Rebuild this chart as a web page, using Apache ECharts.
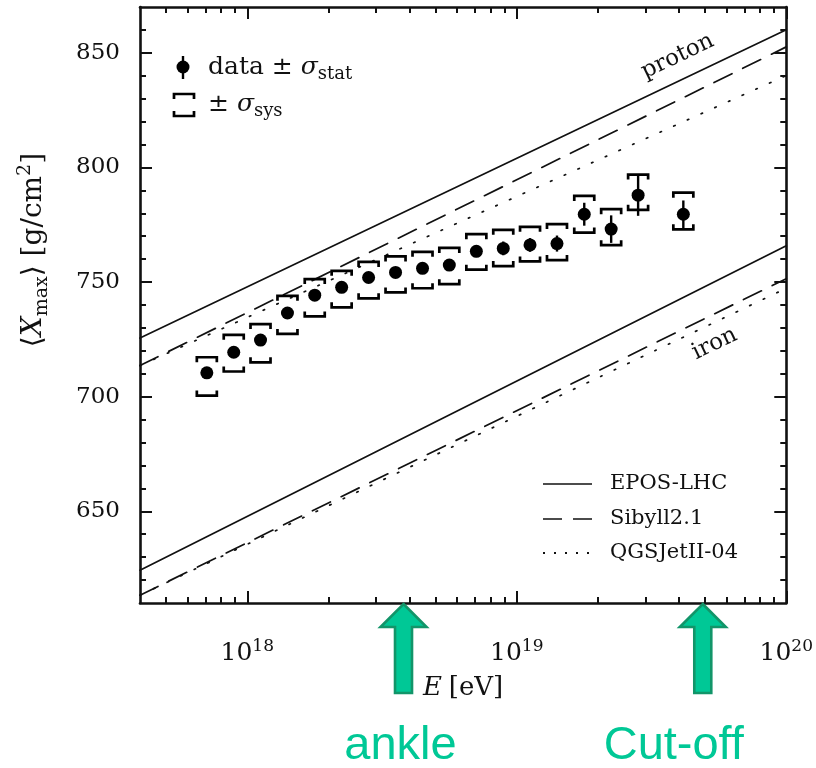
<!DOCTYPE html>
<html>
<head>
<meta charset="utf-8">
<script src="https://cdn.jsdelivr.net/npm/echarts@6/dist/echarts.min.js"></script>
<style>
  html, body { margin: 0; padding: 0; background: #ffffff; }
  #chart { width: 816px; height: 768px; }
</style>
</head>
<body>
<div id="chart"></div>
<script>
// Mean depth of shower maximum <Xmax> versus energy, with hadronic-model predictions.

// Measured points: energy [eV], mean Xmax [g/cm^2], statistical error, systematic band (+ / -)
const energy   = [7.08e17, 8.91e17, 1.12e18, 1.41e18, 1.78e18, 2.24e18, 2.82e18, 3.55e18, 4.47e18,
                  5.62e18, 7.08e18, 8.91e18, 1.12e19, 1.41e19, 1.78e19, 2.24e19, 2.82e19, 4.15e19];
const xmaxMean = [710.4, 719.4, 724.7, 736.5, 744.3, 747.7, 752.0, 754.2, 756.0,
                  757.4, 763.4, 764.7, 766.2, 766.8, 779.6, 773.1, 787.9, 779.6];
const statErr  = [1.5, 1.5, 1.5, 1.5, 1.5, 1.5, 1.5, 1.8, 2.0,
                  2.0, 2.5, 3.0, 3.0, 3.5, 5.0, 6.0, 9.0, 6.0];
const sysUp    = [6.8, 7.6, 7.0, 7.5, 7.0, 7.2, 6.8, 7.0, 7.2,
                  7.5, 7.5, 8.1, 7.9, 8.5, 8.0, 8.7, 9.0, 9.4];
const sysDown  = [9.9, 8.4, 9.7, 9.1, 9.3, 8.7, 9.1, 8.7, 8.7,
                  8.3, 8.0, 7.7, 7.2, 7.2, 8.0, 7.0, 6.4, 6.6];

// Model predictions (straight in lg E): values at the two ends of the energy range
const modelEnergy  = [4e17, 1e20];
const protonEPOS   = [725.6, 860.1];
const protonSibyll = [713.6, 852.6];
const protonQGSJet = [713.6, 840.1];
const ironEPOS     = [624.3, 765.8];
const ironSibyll   = [613.4, 751.5];
const ironQGSJet   = [613.4, 747.3];

// Axis ranges and ticks
const xRange = [4e17, 1e20];
const yRange = [610, 870];
const xMajorTicks = [1e18, 1e19, 1e20];
const xMajorExp   = ['18', '19', '20'];
const xMinorTicks = [5e17, 6e17, 7e17, 8e17, 9e17,
                     2e18, 3e18, 4e18, 5e18, 6e18, 7e18, 8e18, 9e18,
                     2e19, 3e19, 4e19, 5e19, 6e19, 7e19, 8e19, 9e19];
const yMajorTicks = [650, 700, 750, 800, 850];
const yMinorTicks = [620, 630, 640, 660, 670, 680, 690, 710, 720, 730, 740,
                     760, 770, 780, 790, 810, 820, 830, 840, 860];

// Curve annotations
const curveLabel       = ['proton', 'iron'];
const curveLabelEnergy = [3.95e19, 5.42e19];
const curveLabelXmax   = [848.4, 723.0];

// Spectral features marked below the energy axis
const featureName   = ['ankle', 'Cut-off'];
const featureEnergy = [3.8e18, 4.9e19];

const SERIF = "'DejaVu Serif', serif";
const INK = '#111111';
const GREEN = '#00C896';
const GREEN_DARK = '#129569';
const featureTextShift = [-3, -29];

const chart = echarts.init(document.getElementById('chart'), null, { renderer: 'canvas' });

function pairs(xs, ys) { return xs.map((x, i) => [x, ys[i]]); }

function modelLine(name, values, dash) {
  return {
    type: 'line', name: name, xAxisIndex: 0, yAxisIndex: 0,
    data: pairs(modelEnergy, values),
    showSymbol: false, symbol: 'none', silent: true, z: 2,
    lineStyle: { color: INK, width: 1.7, type: dash, cap: 'round', opacity: 1 }
  };
}

function frameAxis(base, extra) { return Object.assign({}, base, extra); }

const xBase = {
  type: 'log', logBase: 10, min: xRange[0], max: xRange[1],
  splitLine: { show: false }, minorTick: { show: false }
};
const yBase = {
  type: 'value', min: yRange[0], max: yRange[1],
  splitLine: { show: false }, minorTick: { show: false }
};
const frameLine = { show: true, onZero: false, lineStyle: { color: INK, width: 2.6 } };

const option = {
  backgroundColor: '#ffffff',
  animation: false,
  grid: { left: 140, right: 27, top: 7, bottom: 165, containLabel: false },
  xAxis: [
    frameAxis(xBase, {
      position: 'bottom',
      axisLine: frameLine,
      axisTick: { show: true, inside: true, length: 12, customValues: xMajorTicks,
                  lineStyle: { color: INK, width: 2 } },
      axisLabel: {
        show: true, margin: 35, customValues: xMajorTicks,
        formatter: function (v) {
          let k = 0, best = Infinity;
          xMajorTicks.forEach((t, i) => { const d = Math.abs(Math.log10(t) - Math.log10(v)); if (d < best) { best = d; k = i; } });
          return '{b|10}{s|' + xMajorExp[k] + '}';
        },
        rich: {
          b: { fontFamily: SERIF, fontSize: 25, color: INK, lineHeight: 30, verticalAlign: 'middle' },
          s: { fontFamily: SERIF, fontSize: 17, color: INK, lineHeight: 17, verticalAlign: 'top' }
        }
      },
      name: '{i|E}  {r|[eV]}', nameLocation: 'middle', nameGap: 72,
      nameTextStyle: {
        rich: {
          i: { fontFamily: SERIF, fontStyle: 'italic', fontSize: 26, color: INK },
          r: { fontFamily: SERIF, fontSize: 26, color: INK }
        }
      }
    }),
    frameAxis(xBase, {
      position: 'bottom',
      axisLine: { show: false },
      axisTick: { show: true, inside: true, length: 6, customValues: xMinorTicks,
                  lineStyle: { color: INK, width: 2 } },
      axisLabel: { show: false }
    }),
    frameAxis(xBase, {
      position: 'top',
      axisLine: frameLine,
      axisTick: { show: true, inside: true, length: 12, customValues: xMajorTicks,
                  lineStyle: { color: INK, width: 2 } },
      axisLabel: { show: false }
    }),
    frameAxis(xBase, {
      position: 'top',
      axisLine: { show: false },
      axisTick: { show: true, inside: true, length: 6, customValues: xMinorTicks,
                  lineStyle: { color: INK, width: 2 } },
      axisLabel: { show: false }
    })
  ],
  yAxis: [
    frameAxis(yBase, {
      position: 'left',
      axisLine: frameLine,
      axisTick: { show: true, inside: true, length: 12, customValues: yMajorTicks,
                  lineStyle: { color: INK, width: 2 } },
      axisLabel: { show: true, margin: 20, customValues: yMajorTicks,
                   fontFamily: SERIF, fontSize: 23, color: INK },
      name: '{p|\u27E8}{x|X}{sub|max}{p|\u27E9 [g/cm}{sup|2}{p|]}',
      nameLocation: 'middle', nameGap: 88, nameRotate: 90,
      nameTextStyle: {
        padding: [0, 0, 0, 110],
        rich: {
          p:   { fontFamily: SERIF, fontSize: 28, color: INK, lineHeight: 36, verticalAlign: 'middle' },
          x:   { fontFamily: SERIF, fontStyle: 'italic', fontSize: 28, color: INK, lineHeight: 36, verticalAlign: 'middle' },
          sub: { fontFamily: SERIF, fontSize: 19, color: INK, lineHeight: 19, verticalAlign: 'bottom' },
          sup: { fontFamily: SERIF, fontSize: 19, color: INK, lineHeight: 19, verticalAlign: 'top' }
        }
      }
    }),
    frameAxis(yBase, {
      position: 'left',
      axisLine: { show: false },
      axisTick: { show: true, inside: true, length: 6, customValues: yMinorTicks,
                  lineStyle: { color: INK, width: 2 } },
      axisLabel: { show: false }
    }),
    frameAxis(yBase, {
      position: 'right',
      axisLine: frameLine,
      axisTick: { show: true, inside: true, length: 12, customValues: yMajorTicks,
                  lineStyle: { color: INK, width: 2 } },
      axisLabel: { show: false }
    }),
    frameAxis(yBase, {
      position: 'right',
      axisLine: { show: false },
      axisTick: { show: true, inside: true, length: 6, customValues: yMinorTicks,
                  lineStyle: { color: INK, width: 2 } },
      axisLabel: { show: false }
    })
  ],
  series: [
    modelLine('EPOS-LHC', protonEPOS, 'solid'),
    modelLine('Sibyll2.1', protonSibyll, [20, 12]),
    modelLine('QGSJetII-04', protonQGSJet, [1.5, 13.5]),
    modelLine('EPOS-LHC', ironEPOS, 'solid'),
    modelLine('Sibyll2.1', ironSibyll, [20, 12]),
    modelLine('QGSJetII-04', ironQGSJet, [1.5, 13.5]),
    {
      // statistical bars and systematic brackets
      type: 'custom', name: 'errors', xAxisIndex: 0, yAxisIndex: 0, z: 4, silent: true,
      data: energy.map((e, i) => [e, xmaxMean[i], statErr[i], sysUp[i], sysDown[i]]),
      renderItem: function (params, api) {
        const e = api.value(0), y = api.value(1);
        const c  = api.coord([e, y]);
        const st = api.coord([e, y + api.value(2)]);
        const sb = api.coord([e, y - api.value(2)]);
        const bt = api.coord([e, y + api.value(3)]);
        const bb = api.coord([e, y - api.value(4)]);
        const hw = 10, leg = 5;
        const s = { stroke: '#000', lineWidth: 2.7, fill: null };
        return {
          type: 'group',
          children: [
            { type: 'line', shape: { x1: c[0], y1: st[1], x2: c[0], y2: sb[1] },
              style: { stroke: '#000', lineWidth: 2.4 } },
            { type: 'polyline', shape: { points: [[c[0] - hw, bt[1] + leg], [c[0] - hw, bt[1]], [c[0] + hw, bt[1]], [c[0] + hw, bt[1] + leg]] },
              style: s },
            { type: 'polyline', shape: { points: [[c[0] - hw, bb[1] - leg], [c[0] - hw, bb[1]], [c[0] + hw, bb[1]], [c[0] + hw, bb[1] - leg]] },
              style: s }
          ]
        };
      }
    },
    {
      type: 'scatter', name: 'data', xAxisIndex: 0, yAxisIndex: 0, z: 5, silent: true,
      data: pairs(energy, xmaxMean),
      symbol: 'circle', symbolSize: 13,
      itemStyle: { color: '#000000', opacity: 1 }
    },
    {
      // "proton" / "iron" annotations along the model curves
      type: 'custom', name: 'curve labels', xAxisIndex: 0, yAxisIndex: 0, z: 3, silent: true,
      data: pairs(curveLabelEnergy, curveLabelXmax),
      renderItem: function (params, api) {
        const p = api.coord([api.value(0), api.value(1)]);
        return {
          type: 'text', x: p[0], y: p[1], rotation: 0.445,
          style: { text: curveLabel[params.dataIndex], font: "23px 'DejaVu Serif'", fill: INK,
                   align: 'center', verticalAlign: 'middle' }
        };
      }
    },
    {
      // arrows marking spectral features under the energy axis
      type: 'custom', name: 'features', xAxisIndex: 0, yAxisIndex: 0, z: 10, silent: true, clip: false,
      data: featureEnergy.map(e => [e, yRange[0]]),
      renderItem: function (params, api) {
        const p = api.coord([api.value(0), api.value(1)]);
        const x = p[0], tip = p[1] + 1;
        const headW = 23, headH = 23, shaftW = 8.5, len = 89;
        return {
          type: 'group',
          children: [
            { type: 'polygon',
              shape: { points: [[x, tip], [x + headW, tip + headH], [x + shaftW, tip + headH], [x + shaftW, tip + len],
                                [x - shaftW, tip + len], [x - shaftW, tip + headH], [x - headW, tip + headH]] },
              style: { fill: GREEN, stroke: GREEN_DARK, lineWidth: 2.6, lineJoin: 'miter' } },
            { type: 'text', x: x + featureTextShift[params.dataIndex], y: tip + 166,
              style: { text: featureName[params.dataIndex], font: "47px 'Liberation Sans', Arial, sans-serif",
                       fill: GREEN, align: 'center', verticalAlign: 'bottom' } }
          ]
        };
      }
    }
  ],
  graphic: [
    // data legend (top left)
    { type: 'line', shape: { x1: 183, y1: 56, x2: 183, y2: 79 }, style: { stroke: '#000', lineWidth: 2.4 }, z: 20 },
    { type: 'circle', shape: { cx: 183, cy: 67, r: 6.5 }, style: { fill: '#000' }, z: 20 },
    { type: 'text', x: 208, y: 67, z: 20,
      style: {
        text: '{a|data \u00B1 }{g|\u03C3}{s|stat}', verticalAlign: 'middle', align: 'left',
        rich: {
          a: { fontFamily: SERIF, fontSize: 25, fill: INK, lineHeight: 32, verticalAlign: 'middle' },
          g: { fontFamily: SERIF, fontStyle: 'italic', fontSize: 25, fill: INK, lineHeight: 32, verticalAlign: 'middle' },
          s: { fontFamily: SERIF, fontSize: 18, fill: INK, lineHeight: 18, verticalAlign: 'bottom' }
        }
      } },
    { type: 'polyline', shape: { points: [[174, 99], [174, 94], [194, 94], [194, 99]] },
      style: { stroke: '#000', lineWidth: 2.7, fill: null }, z: 20 },
    { type: 'polyline', shape: { points: [[174, 111], [174, 116], [194, 116], [194, 111]] },
      style: { stroke: '#000', lineWidth: 2.7, fill: null }, z: 20 },
    { type: 'text', x: 208, y: 104, z: 20,
      style: {
        text: '{a|\u00B1 }{g|\u03C3}{s|sys}', verticalAlign: 'middle', align: 'left',
        rich: {
          a: { fontFamily: SERIF, fontSize: 25, fill: INK, lineHeight: 32, verticalAlign: 'middle' },
          g: { fontFamily: SERIF, fontStyle: 'italic', fontSize: 25, fill: INK, lineHeight: 32, verticalAlign: 'middle' },
          s: { fontFamily: SERIF, fontSize: 18, fill: INK, lineHeight: 18, verticalAlign: 'bottom' }
        }
      } },
    // model legend (bottom right)
    { type: 'line', shape: { x1: 543, y1: 484, x2: 592, y2: 484 }, style: { stroke: INK, lineWidth: 1.7 }, z: 20 },
    { type: 'line', shape: { x1: 543, y1: 519, x2: 592, y2: 519 }, style: { stroke: INK, lineWidth: 1.7, lineDash: [19, 11] }, z: 20 },
    { type: 'line', shape: { x1: 543, y1: 553, x2: 592, y2: 553 }, style: { stroke: INK, lineWidth: 1.9, lineDash: [2, 9] }, z: 20 },
    { type: 'text', x: 610, y: 484, z: 20,
      style: { text: 'EPOS-LHC', font: "21px 'DejaVu Serif'", fill: INK, verticalAlign: 'middle' } },
    { type: 'text', x: 610, y: 519, z: 20,
      style: { text: 'Sibyll2.1', font: "21px 'DejaVu Serif'", fill: INK, verticalAlign: 'middle' } },
    { type: 'text', x: 610, y: 553, z: 20,
      style: { text: 'QGSJetII-04', font: "21px 'DejaVu Serif'", fill: INK, verticalAlign: 'middle' } }
  ]
};

chart.setOption(option);
</script>
</body>
</html>
